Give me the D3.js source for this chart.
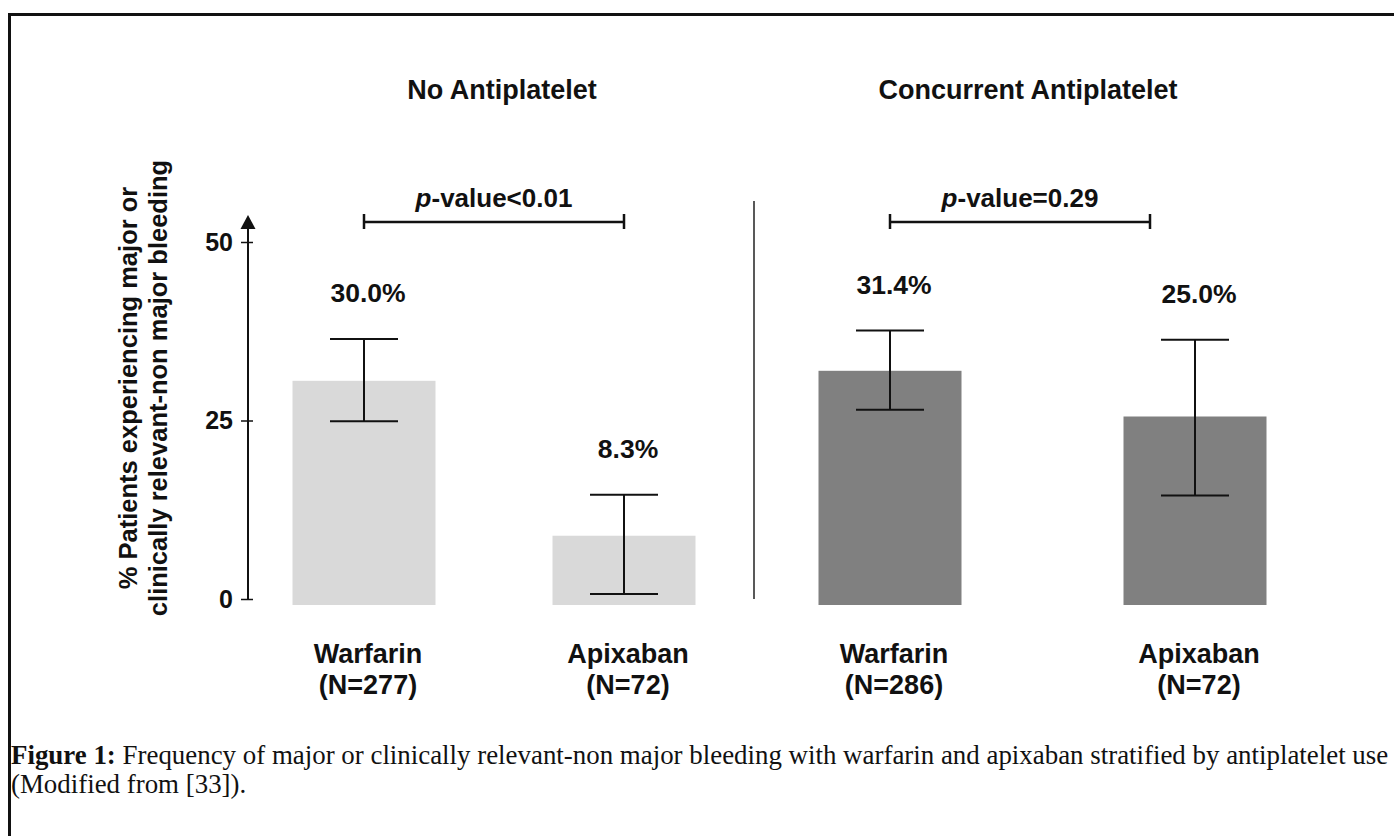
<!DOCTYPE html>
<html>
<head>
<meta charset="utf-8">
<script src="https://cdn.jsdelivr.net/npm/d3@7/dist/d3.min.js"></script>
<style>
  body { margin: 0; background: #fff; }
  svg { display: block; }
</style>
</head>
<body>
<script>
// Chart data
var groups = ["No Antiplatelet", "Concurrent Antiplatelet"];
var drugs = ["Warfarin", "Apixaban"];
var sampleSizes = [[277, 72], [286, 72]];
var percentages = [[30.0, 8.3], [31.4, 25.0]];
var ciLow = [[24.9, 0.7], [26.5, 14.5]];
var ciHigh = [[36.4, 14.6], [37.6, 36.3]];
var pValues = ["<0.01", "=0.29"];
var yTicks = [0, 25, 50];
var yLabelLines = ["% Patients experiencing major or", "clinically relevant-non major bleeding"];
var captionBold = "Figure 1:";
var captionText = " Frequency of major or clinically relevant-non major bleeding with warfarin and apixaban stratified by antiplatelet use";
var captionLine2 = "(Modified from [33]).";

// Layout
var svgWidth = 1394;
var svgHeight = 836;
var barWidth = 143;
var groupRanges = [[364, 624], [890, 1195]];
var barColors = ["#d9d9d9", "#808080"];
var boldFont = "'Liberation Sans', Arial, sans-serif";

var svg = d3.select("body")
  .append("svg")
  .attr("width", svgWidth)
  .attr("height", svgHeight);

// Frame
svg.append("rect")
  .attr("x", 9.5)
  .attr("y", 14.5)
  .attr("width", 1500)
  .attr("height", 1000)
  .attr("fill", "none")
  .attr("stroke", "#111")
  .attr("stroke-width", 3);

var yScale = d3.scaleLinear()
  .domain([0, 50])
  .range([599, 242]);

var axisX = 248;

// Y axis
var yAxis = d3.axisLeft(yScale)
  .tickValues(yTicks)
  .tickSize(7)
  .tickPadding(8);

var axisG = svg.append("g")
  .attr("transform", `translate(${axisX}, 0)`)
  .call(yAxis);

axisG.select(".domain").remove();
axisG.selectAll(".tick line")
  .attr("x2", -7)
  .attr("x1", 5)
  .attr("stroke", "#111")
  .attr("stroke-width", 1.5);
axisG.selectAll(".tick text")
  .attr("font-family", boldFont)
  .attr("font-weight", "bold")
  .attr("font-size", 25)
  .attr("fill", "#111");

axisG.append("line")
  .attr("x1", 0).attr("x2", 0)
  .attr("y1", yScale(0))
  .attr("y2", 226)
  .attr("stroke", "#111")
  .attr("stroke-width", 2);

axisG.append("path")
  .attr("d", "M-7.5,229 L0,215 L7.5,229 Z")
  .attr("fill", "#111");

// Y axis label
var yLabel = svg.append("text")
  .attr("transform", "translate(0, 388) rotate(-90)")
  .attr("text-anchor", "middle")
  .attr("font-family", boldFont)
  .attr("font-weight", "bold")
  .attr("font-size", 25.5)
  .attr("fill", "#111");

yLabel.selectAll("tspan")
  .data(yLabelLines)
  .enter()
  .append("tspan")
  .attr("x", 0)
  .attr("y", (d, i) => 137 + i * 30)
  .text(d => d);

// Divider between groups
svg.append("line")
  .attr("x1", 754).attr("x2", 754)
  .attr("y1", 201).attr("y2", yScale(0))
  .attr("stroke", "#222")
  .attr("stroke-width", 1.5);

groups.forEach(function(group, g) {
  var xScale = d3.scalePoint()
    .domain(drugs)
    .range(groupRanges[g]);

  var rows = drugs.map(function(drug, i) {
    return {
      drug: drug,
      n: sampleSizes[g][i],
      value: percentages[g][i],
      low: ciLow[g][i],
      high: ciHigh[g][i]
    };
  });

  var gg = svg.append("g");

  // Group title
  var x0 = xScale(drugs[0]);
  var bracketEnd = x0 + (groupRanges[0][1] - groupRanges[0][0]);
  gg.append("text")
    .attr("x", (x0 + bracketEnd) / 2 + 8)
    .attr("y", 99)
    .attr("text-anchor", "middle")
    .attr("font-family", boldFont)
    .attr("font-weight", "bold")
    .attr("font-size", 27)
    .attr("fill", "#111")
    .text(group);

  // p-value bracket
  gg.append("path")
    .attr("d", `M${x0},214 V229 M${x0},222 H${bracketEnd} M${bracketEnd},214 V229`)
    .attr("fill", "none")
    .attr("stroke", "#111")
    .attr("stroke-width", 2.5);

  var pText = gg.append("text")
    .attr("x", (x0 + bracketEnd) / 2)
    .attr("y", 207)
    .attr("text-anchor", "middle")
    .attr("font-family", boldFont)
    .attr("font-weight", "bold")
    .attr("font-size", 26)
    .attr("fill", "#111");
  pText.append("tspan").attr("font-style", "italic").text("p");
  pText.append("tspan").text("-value" + pValues[g]);

  // Bars
  gg.selectAll(".bar")
    .data(rows)
    .enter()
    .append("rect")
    .classed("bar", true)
    .attr("x", d => xScale(d.drug) - barWidth / 2)
    .attr("y", d => yScale(d.value) - 4)
    .attr("width", barWidth)
    .attr("height", d => yScale(0) + 10 - yScale(d.value))
    .attr("fill", barColors[g]);

  // Error bars
  var err = gg.selectAll(".err")
    .data(rows)
    .enter()
    .append("g")
    .classed("err", true)
    .attr("stroke", "#111")
    .attr("stroke-width", 2);

  err.append("line")
    .attr("x1", d => xScale(d.drug)).attr("x2", d => xScale(d.drug))
    .attr("y1", d => yScale(d.low)).attr("y2", d => yScale(d.high));
  err.append("line")
    .attr("x1", d => xScale(d.drug) - 34).attr("x2", d => xScale(d.drug) + 34)
    .attr("y1", d => yScale(d.low)).attr("y2", d => yScale(d.low));
  err.append("line")
    .attr("x1", d => xScale(d.drug) - 34).attr("x2", d => xScale(d.drug) + 34)
    .attr("y1", d => yScale(d.high)).attr("y2", d => yScale(d.high));

  // Percentage labels
  gg.selectAll(".pct")
    .data(rows)
    .enter()
    .append("text")
    .classed("pct", true)
    .attr("x", d => xScale(d.drug) + 4)
    .attr("y", d => yScale(d.high) - 37)
    .attr("text-anchor", "middle")
    .attr("font-family", boldFont)
    .attr("font-weight", "bold")
    .attr("font-size", 26.5)
    .attr("fill", "#111")
    .text(d => d.value.toFixed(1) + "%");

  // Category labels
  var cat = gg.selectAll(".cat")
    .data(rows)
    .enter()
    .append("text")
    .classed("cat", true)
    .attr("text-anchor", "middle")
    .attr("font-family", boldFont)
    .attr("font-weight", "bold")
    .attr("font-size", 27)
    .attr("fill", "#111");
  cat.append("tspan")
    .attr("x", d => xScale(d.drug) + 4)
    .attr("y", 663)
    .text(d => d.drug);
  cat.append("tspan")
    .attr("x", d => xScale(d.drug) + 4)
    .attr("y", 694)
    .text(d => "(N=" + d.n + ")");
});

// Caption
var cap = svg.append("text")
  .attr("x", 11)
  .attr("y", 764)
  .attr("font-family", "'Liberation Serif', 'DejaVu Serif', serif")
  .attr("font-size", 22)
  .attr("fill", "#111");
cap.append("tspan").attr("font-weight", "bold").text(captionBold);
cap.append("tspan").text(captionText);

var capLen = cap.node().getComputedTextLength();
var capSize = 22 * (1389 - 11) / capLen;
cap.attr("font-size", capSize);

svg.append("text")
  .attr("x", 11)
  .attr("y", 793)
  .attr("font-family", "'Liberation Serif', 'DejaVu Serif', serif")
  .attr("font-size", capSize)
  .attr("fill", "#111")
  .text(captionLine2);
</script>
</body>
</html>
